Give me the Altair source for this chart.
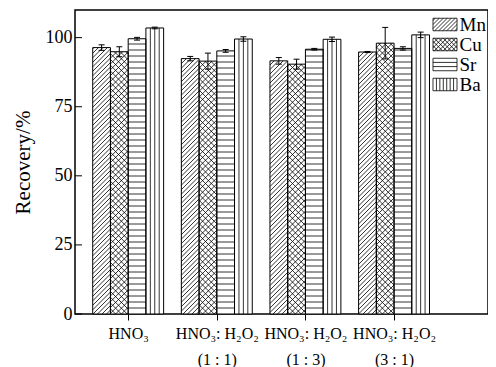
import json
import numpy as np
import pandas as pd
import altair as alt

# ---------------- data ----------------
groups = [1, 2, 3, 4]
group_labels = [["HNO₃"],
                ["HNO₃: H₂O₂", "(1 : 1)"],
                ["HNO₃: H₂O₂", "(1 : 3)"],
                ["HNO₃: H₂O₂", "(3 : 1)"]]
elements = ["Mn", "Cu", "Sr", "Ba"]
mn = [96.4, 92.4, 91.6, 94.8]
cu = [94.9, 91.5, 90.4, 98.0]
sr = [99.6, 95.2, 95.8, 96.1]
ba = [103.5, 99.5, 99.4, 101.0]
mn_err = [1.0, 0.8, 1.2, 0.2]
cu_err = [1.8, 2.9, 1.8, 5.7]
sr_err = [0.5, 0.5, 0.3, 0.6]
ba_err = [0.3, 0.8, 0.8, 1.0]
y_ticks = [0, 25, 50, 75, 100]

# ---------------- layout / style ----------------
W, H = 413, 304
XDOM = [0.4, 5.06]
YDOM = [0, 110]
BAR_W = 0.2
OFFSETS = [-0.4, -0.2, 0.0, 0.2]
FONT = "Liberation Serif"
SX = W / (XDOM[1] - XDOM[0])
SY = H / (YDOM[1] - YDOM[0])
CAP = 3.0 / SX

# pattern kind and pitch (px) for bars, and for legend swatches
BAR_PAT = {"Mn": ("pos", 4.5), "Cu": ("cross", 5.8), "Sr": ("h", 6.0), "Ba": ("v", 4)}
LEG_PAT = {"Mn": ("pos", 4.0), "Cu": ("cross", 4.4), "Sr": ("h", 12.5 / 3), "Ba": ("v", 7)}


def hatch(kind, x0, x1, y0, y1, p):
    """Hatch segments inside rectangle (y-up pixel space)."""
    segs = []
    if kind in ("pos", "cross"):
        for k in range(int(np.floor((y0 - x1) / p)) - 1, int(np.ceil((y1 - x0) / p)) + 2):
            c = k * p
            a = max(x0, y0 - c)
            b = min(x1, y1 - c)
            if b - a > 0.3:
                segs.append((a, a + c, b, b + c))
    if kind in ("neg", "cross"):
        for k in range(int(np.floor((x0 + y0) / p)) - 1, int(np.ceil((x1 + y1) / p)) + 2):
            c = k * p
            a = max(x0, c - y1)
            b = min(x1, c - y0)
            if b - a > 0.3:
                segs.append((a, c - a, b, c - b))
    if kind == "h":
        y = y0 + p
        while y < y1 - 0.5:
            segs.append((x0, y, x1, y))
            y += p
    if kind == "v":
        step = (x1 - x0) / p
        for i in range(1, int(p)):
            x = x0 + i * step
            segs.append((x, y0, x, y1))
    return segs


vals = {"Mn": mn, "Cu": cu, "Sr": sr, "Ba": ba}
errs = {"Mn": mn_err, "Cu": cu_err, "Sr": sr_err, "Ba": ba_err}

bar_rows, hatch_rows = [], []
for ei, el in enumerate(elements):
    for gi, g in enumerate(groups):
        v = vals[el][gi]
        e = errs[el][gi]
        x0 = g + OFFSETS[ei]
        x1 = x0 + BAR_W
        xc = (x0 + x1) / 2
        bar_rows.append(dict(element=el, group=g, value=v, x0=x0, x1=x1, xc=xc,
                             lo=v - e, hi=v + e, c0=xc - CAP, c1=xc + CAP))
        kind, p = BAR_PAT[el]
        px0 = (x0 - XDOM[0]) * SX
        px1 = (x1 - XDOM[0]) * SX
        for (a, b, c, d) in hatch(kind, px0, px1, 0.0, v * SY, p):
            hatch_rows.append(dict(hx=a / SX + XDOM[0], hy=b / SY,
                                   hx2=c / SX + XDOM[0], hy2=d / SY))

bars = pd.DataFrame(bar_rows)
hatches = pd.DataFrame(hatch_rows)

# legend swatch paths (custom symbol shapes)
SYM = 17.0
R = SYM / 2
SW, SH = 24.0, 12.5


def fmt(x):
    return f"{x / R:.3f}"


paths = []
for el in elements:
    kind, p = LEG_PAT[el]
    d = (f"M{fmt(-SW/2)},{fmt(-SH/2)}L{fmt(SW/2)},{fmt(-SH/2)}"
         f"L{fmt(SW/2)},{fmt(SH/2)}L{fmt(-SW/2)},{fmt(SH/2)}Z")
    for (a, b, c, e) in hatch(kind, -SW / 2, SW / 2, -SH / 2, SH / 2, p):
        d += f"M{fmt(a)},{fmt(-b)}L{fmt(c)},{fmt(-e)}"
    paths.append(d)

# x label expression
expr = ""
for g, lab in zip(groups, group_labels):
    expr += f"datum.value == {g} ? {json.dumps(lab, ensure_ascii=False)} : "
expr += "''"

xs = alt.Scale(domain=XDOM, nice=False, zero=False)
ys = alt.Scale(domain=YDOM, nice=False)

x_axis = alt.Axis(values=groups, labelExpr=expr, tickSize=6, tickColor="black",
                  tickWidth=1, labelFont=FONT, labelFontSize=16, labelColor="black",
                  labelLineHeight=26, labelPadding=5, labelBaseline="top",
                  domain=False, grid=False, title=None, labelAlign="center")
y_axis = alt.Axis(values=y_ticks, tickSize=0, labelFont=FONT, labelFontSize=18,
                  labelColor="black", labelPadding=3, domain=False, grid=False,
                  title="Recovery/%", titleFont=FONT, titleFontSize=21,
                  titleFontWeight="normal", titleColor="black", titlePadding=12)

base = alt.Chart(bars)

fill = base.mark_rect(color="white").encode(
    x=alt.X("x0:Q", scale=xs, axis=x_axis),
    x2="x1:Q",
    y=alt.Y("value:Q", scale=ys, axis=y_axis),
    y2=alt.datum(0),
)

hatch_layer = alt.Chart(hatches).mark_rule(color="black", strokeWidth=0.8).encode(
    x=alt.X("hx:Q", scale=xs), x2="hx2:Q",
    y=alt.Y("hy:Q", scale=ys), y2="hy2:Q",
)

outline = base.mark_rect(fillOpacity=0, stroke="black", strokeWidth=1).encode(
    x=alt.X("x0:Q", scale=xs), x2="x1:Q",
    y=alt.Y("value:Q", scale=ys), y2=alt.datum(0),
)

err_v = base.mark_rule(color="black", strokeWidth=1).encode(
    x=alt.X("xc:Q", scale=xs), y=alt.Y("lo:Q", scale=ys), y2="hi:Q",
)
cap_hi = base.mark_rule(color="black", strokeWidth=1).encode(
    x=alt.X("c0:Q", scale=xs), x2="c1:Q", y=alt.Y("hi:Q", scale=ys),
)
cap_lo = base.mark_rule(color="black", strokeWidth=1).encode(
    x=alt.X("c0:Q", scale=xs), x2="c1:Q", y=alt.Y("lo:Q", scale=ys),
)

yticks = alt.Chart(pd.DataFrame({"t": y_ticks})).mark_rule(
    color="black", strokeWidth=1).encode(
    y=alt.Y("t:Q", scale=ys), x=alt.value(0), x2=alt.value(7),
)

# legend only: no rows drawn, entries come from the explicit shape domain
legend_layer = alt.Chart(pd.DataFrame({"element": elements, "g": [1] * 4,
                                       "v": [50] * 4})).transform_filter(
    "datum.v < 0").mark_point(filled=False, color="black").encode(
    x=alt.X("g:Q", scale=xs),
    y=alt.Y("v:Q", scale=ys),
    shape=alt.Shape("element:N",
                    scale=alt.Scale(domain=elements, range=paths),
                    legend=alt.Legend(title=None, orient="none", legendX=360.5,
                                      legendY=5, symbolSize=SYM * SYM,
                                      symbolStrokeWidth=0.8,
                                      symbolFillColor="white",
                                      symbolStrokeColor="black",
                                      symbolOpacity=1,
                                      labelFont=FONT, labelFontSize=19,
                                      labelColor="black", rowPadding=0,
                                      labelOffset=5, padding=0)),
)

chart = alt.layer(fill, hatch_layer, outline, err_v, cap_hi, cap_lo, yticks,
                  legend_layer).properties(
    width=W, height=H,
    autosize=alt.AutoSizeParams(type="none"),
    padding={"left": 67, "top": 2, "right": 0, "bottom": 53},
    background="white",
).configure_view(stroke="black", strokeWidth=1.5)

chart.save("out.html", embed_options={"renderer": "svg", "actions": False})
